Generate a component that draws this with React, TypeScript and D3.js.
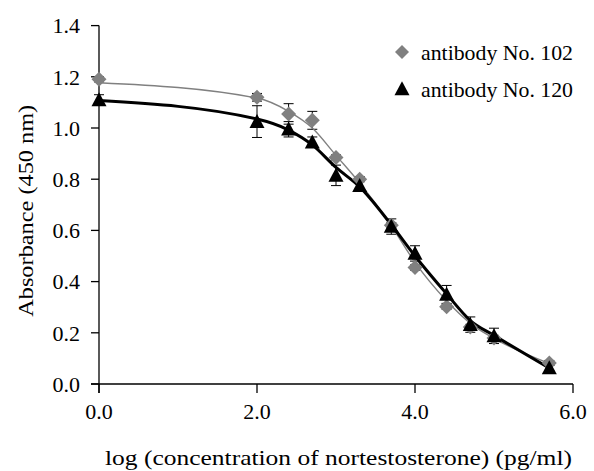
import React from "react";
import * as d3 from "d3";

const logConc = [0, 2.0, 2.4, 2.7, 3.0, 3.3, 3.7, 4.0, 4.4, 4.7, 5.0, 5.7];
const ab102 = [1.19, 1.12, 1.055, 1.03, 0.885, 0.8, 0.62, 0.455, 0.302, 0.223, 0.18, 0.082];
const ab102Err = [0.01, 0.015, 0.04, 0.035, 0.01, 0.01, 0.01, 0.01, 0.01, 0.01, 0.01, 0.01];
const ab102Fit = [1.177, 1.117, 1.065, 1.0, 0.893, 0.785, 0.618, 0.475, 0.325, 0.237, 0.178, 0.08];
const ab120 = [1.11, 1.025, 0.995, 0.945, 0.815, 0.775, 0.615, 0.51, 0.35, 0.232, 0.188, 0.063];
const ab120Err = [0.02, 0.062, 0.03, 0.02, 0.04, 0.02, 0.03, 0.03, 0.035, 0.03, 0.03, 0.01];
const ab120Fit = [1.107, 1.035, 0.992, 0.934, 0.846, 0.77, 0.622, 0.5, 0.352, 0.248, 0.19, 0.062];

const xTicks = [0, 2, 4, 6];
const yTicks = [0, 0.2, 0.4, 0.6, 0.8, 1.0, 1.2, 1.4];
const legendLabels = ["antibody No. 102", "antibody No. 120"];
const xTitle = "log (concentration of nortestosterone) (pg/ml)";
const yTitle = "Absorbance (450 nm)";

const W = 594;
const H = 471;
const FONT = "'Liberation Serif', 'Times New Roman', serif";
const GRAY = "#808080";

export default function App() {
  const x = d3.scaleLinear().domain([0, 6]).range([99, 573]);
  const y = d3.scaleLinear().domain([0, 1.4]).range([384, 25.6]);

  const line = d3
    .line<[number, number]>()
    .x((d) => x(d[0]))
    .y((d) => y(d[1]))
    .curve(d3.curveMonotoneX);

  const fit102 = logConc.map((v, i) => [v, ab102Fit[i]] as [number, number]);
  const fit120 = logConc.map((v, i) => [v, ab120Fit[i]] as [number, number]);

  const diamond = (cx: number, cy: number, r = 7.5) =>
    `M${cx},${cy - r}L${cx + r},${cy}L${cx},${cy + r}L${cx - r},${cy}Z`;
  const triangle = (cx: number, cy: number, w = 15, h = 14) =>
    `M${cx},${cy - h * 0.55}L${cx + w / 2},${cy + h * 0.45}L${cx - w / 2},${cy + h * 0.45}Z`;

  const errBars = (vals: number[], errs: number[], key: string) =>
    logConc.map((v, i) => {
      const cx = x(v);
      const y1 = y(vals[i] + errs[i]);
      const y2 = y(vals[i] - errs[i]);
      return (
        <g key={key + i} stroke="#000" strokeWidth={1}>
          <line x1={cx} x2={cx} y1={y1} y2={y2} />
          <line x1={cx - 5} x2={cx + 5} y1={y1} y2={y1} />
          <line x1={cx - 5} x2={cx + 5} y1={y2} y2={y2} />
        </g>
      );
    });

  return (
    <svg
      width={W}
      height={H}
      style={{ position: "absolute", left: 0, top: 0, background: "#fff" }}
      fontFamily={FONT}
    >
      {/* axes */}
      <line x1={99} x2={99} y1={y(1.4)} y2={393} stroke="#000" strokeWidth={1.3} />
      <line x1={91} x2={x(6)} y1={384} y2={384} stroke="#000" strokeWidth={1.3} />
      {yTicks.map((t) => (
        <g key={"yt" + t}>
          <line x1={91} x2={99} y1={y(t)} y2={y(t)} stroke="#000" strokeWidth={1.3} />
          <text x={80} y={y(t)} dy="0.35em" textAnchor="end" fontSize={22} fill="#000">
            {t.toFixed(1)}
          </text>
        </g>
      ))}
      {xTicks.map((t) => (
        <g key={"xt" + t}>
          <line x1={x(t)} x2={x(t)} y1={384} y2={393} stroke="#000" strokeWidth={1.3} />
          <text x={x(t)} y={419} textAnchor="middle" fontSize={22} fill="#000">
            {t.toFixed(1)}
          </text>
        </g>
      ))}
      <text
        x={105}
        y={465}
        fontSize={22}
        fill="#000"
        textLength={467}
        lengthAdjust="spacingAndGlyphs"
      >
        {xTitle}
      </text>
      <text
        transform={`translate(33,${(y(0) + y(1.4)) / 2 + 6}) rotate(-90)`}
        textAnchor="middle"
        fontSize={22}
        fill="#000"
        textLength={212}
        lengthAdjust="spacingAndGlyphs"
      >
        {yTitle}
      </text>

      {/* error bars */}
      {errBars(ab102, ab102Err, "e102")}
      {errBars(ab120, ab120Err, "e120")}

      {/* fitted curves */}
      <path d={line(fit102) ?? ""} fill="none" stroke={GRAY} strokeWidth={1.4} />
      <path d={line(fit120) ?? ""} fill="none" stroke="#000" strokeWidth={3} />

      {/* markers */}
      {logConc.map((v, i) => (
        <path key={"d" + i} d={diamond(x(v), y(ab102[i]))} fill={GRAY} />
      ))}
      {logConc.map((v, i) => (
        <path key={"t" + i} d={triangle(x(v), y(ab120[i]))} fill="#000" />
      ))}

      {/* legend */}
      <path d={diamond(402, 52, 7)} fill={GRAY} />
      <text x={421} y={52} dy="0.35em" fontSize={22} fill="#000" textLength={152} lengthAdjust="spacingAndGlyphs">
        {legendLabels[0]}
      </text>
      <path d={triangle(402, 89)} fill="#000" />
      <text x={421} y={89} dy="0.35em" fontSize={22} fill="#000" textLength={152} lengthAdjust="spacingAndGlyphs">
        {legendLabels[1]}
      </text>
    </svg>
  );
}
